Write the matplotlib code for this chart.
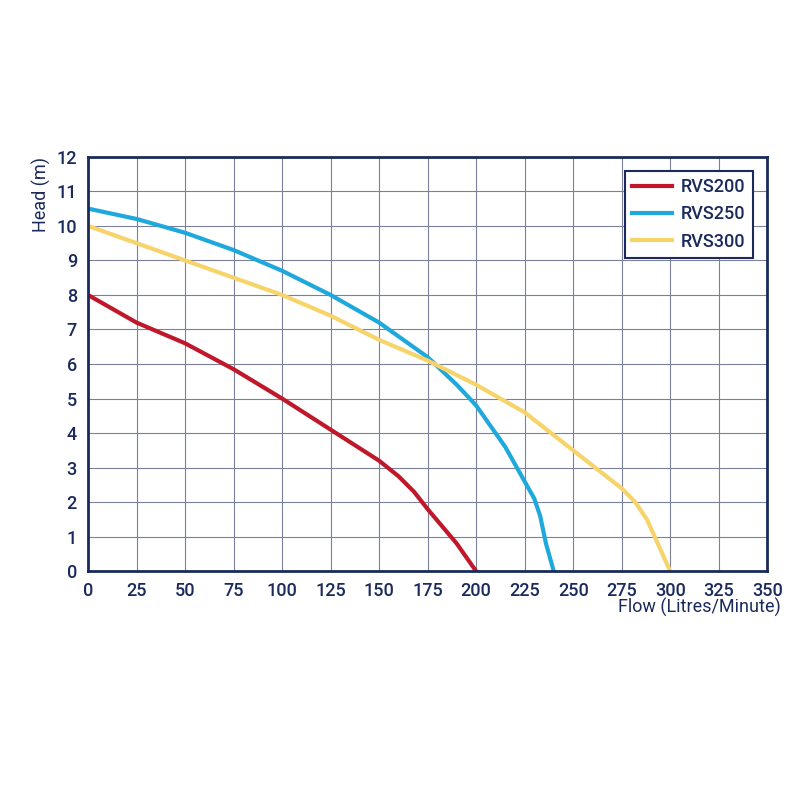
import matplotlib.pyplot as plt

navy = '#1B2A5C'
plt.rcParams['font.family'] = ['Roboto', 'DejaVu Sans']
plt.rcParams['font.weight'] = 'medium'

rvs200_q = [0, 25, 50, 75, 100, 125, 150, 160, 168, 175, 190, 200]
rvs200_h = [8.0, 7.2, 6.6, 5.85, 5.0, 4.1, 3.2, 2.75, 2.3, 1.8, 0.8, 0.0]
rvs250_q = [0, 25, 50, 75, 100, 125, 150, 175, 190, 200, 215, 225, 230, 233, 236, 240]
rvs250_h = [10.5, 10.2, 9.8, 9.3, 8.7, 8.0, 7.2, 6.2, 5.4, 4.8, 3.6, 2.6, 2.1, 1.6, 0.8, 0.0]
rvs300_q = [0, 25, 50, 75, 100, 125, 150, 175, 200, 225, 250, 275, 282, 288, 292, 300]
rvs300_h = [10.0, 9.5, 9.0, 8.5, 8.0, 7.4, 6.7, 6.1, 5.4, 4.6, 3.5, 2.4, 2.0, 1.5, 1.0, 0.0]

fig = plt.figure(figsize=(8, 8), dpi=100)
ax = fig.add_axes([0.11, 0.286, 0.849, 0.518])

ax.plot(rvs200_q, rvs200_h, color='#C0182A', lw=3, label='RVS200')
ax.plot(rvs250_q, rvs250_h, color='#1FA8DC', lw=3, label='RVS250')
ax.plot(rvs300_q, rvs300_h, color='#F7D46A', lw=3, label='RVS300')

ax.set_xlim(0, 350)
ax.set_ylim(0, 12)
ax.set_xticks(range(0, 351, 25))
ax.set_yticks(range(0, 13))
ax.grid(color='#7A809A', lw=0.8)
ax.set_axisbelow(True)
for s in ax.spines.values():
    s.set_color(navy)
    s.set_linewidth(2)
ax.tick_params(colors=navy, labelsize=13, length=0, pad=8)
ax.set_xlabel('Flow (Litres/Minute)', color=navy, fontsize=13, labelpad=2)
ax.xaxis.set_label_coords(1.02, -0.065)
ax.xaxis.label.set_horizontalalignment('right')
ax.set_ylabel('Head (m)', color=navy, fontsize=13, loc='top', labelpad=4)

leg = ax.legend(loc='upper right', fontsize=13, frameon=True, fancybox=False,
                handlelength=2.2, handletextpad=0.5, labelcolor=navy, borderaxespad=0.8)
leg.get_frame().set_edgecolor(navy)
leg.get_frame().set_linewidth(1.5)
leg.get_frame().set_alpha(1)

fig.savefig('out.png')
